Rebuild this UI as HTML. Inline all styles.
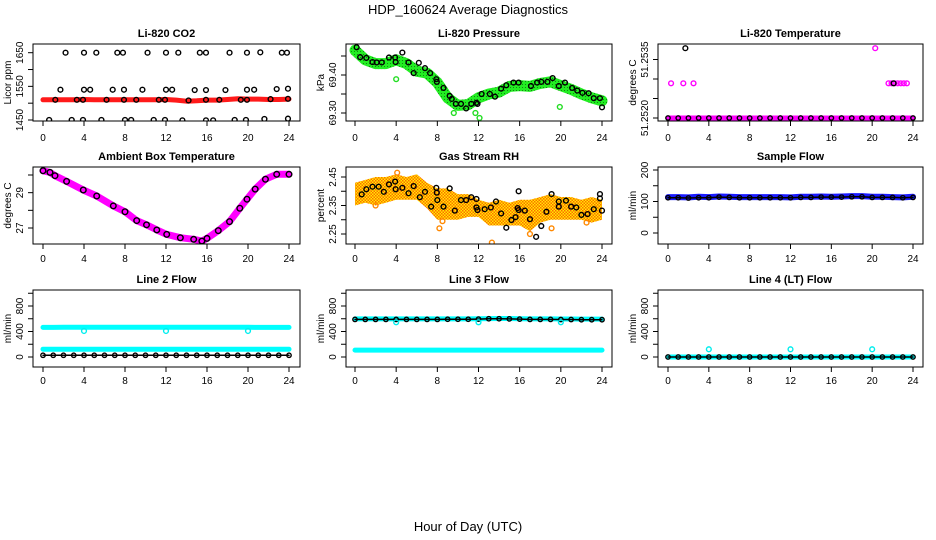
<!DOCTYPE html>
<html><head><meta charset="utf-8"><title>HDP_160624 Average Diagnostics</title>
<style>
html,body{margin:0;padding:0;background:#fff;}
svg{display:block;font-family:"Liberation Sans",Arial,sans-serif;}
</style></head>
<body>
<svg id="chart" xmlns="http://www.w3.org/2000/svg" width="936" height="540" viewBox="0 0 936 540">
<defs>
<pattern id="rhpat" width="3" height="3" patternUnits="userSpaceOnUse">
<rect width="3" height="3" fill="#ffee00"/><rect width="1.5" height="1.5" fill="#ff6a00"/><rect x="1.5" y="1.5" width="1.5" height="1.5" fill="#ff6a00"/>
</pattern>
<pattern id="grpat" width="3" height="3" patternUnits="userSpaceOnUse">
<rect width="3" height="3" fill="#22ee22"/><rect width="1" height="1" fill="#118811"/>
</pattern>
</defs>
<text x="468" y="14" text-anchor="middle" font-size="13">HDP_160624  Average Diagnostics</text>
<text x="468" y="531" text-anchor="middle" font-size="13">Hour of Day (UTC)</text>
</svg>
<script>
// ---- Data ----
const hourTicks = [0,4,8,12,16,20,24];
const hourLabels = ["0","4","8","12","16","20","24"];
const hours25 = [0,1,2,3,4,5,6,7,8,9,10,11,12,13,14,15,16,17,18,19,20,21,22,23,24];

// Li-820 CO2
const co2BandVals = [1510,1510,1510,1510,1511,1510,1510,1510,1510,1510,1510,1510,1511,1509,1506,1507,1509,1509,1511,1513,1512,1512,1511,1511,1512];
const co2PtHours = [2.2,4.0,5.2,7.25,7.8,10.2,12.0,13.2,15.3,15.9,18.2,19.9,21.2,23.3,23.8,
 1.7,4.0,4.6,6.8,7.9,9.7,12.0,12.6,14.8,15.9,17.8,19.9,20.6,22.8,23.9,
 1.2,3.3,3.9,6.2,7.9,9.1,11.3,11.9,14.2,15.9,17.2,19.3,19.9,22.2,23.9,
 0.6,2.8,3.9,5.7,8.0,8.6,10.8,11.9,13.6,15.9,16.6,18.7,19.8,21.6,23.9];
const co2PtVals = [1650,1650,1650,1650,1650,1650,1650,1650,1650,1650,1650,1650,1651,1650,1650,
 1540,1540,1540,1540,1540,1540,1540,1540,1539,1539,1539,1540,1540,1542,1543,
 1510,1510,1510,1510,1510,1510,1510,1510,1508,1510,1510,1510,1510,1512,1513,
 1450,1450,1450,1450,1450,1450,1450,1450,1449,1449,1449,1450,1450,1453,1454];

// Li-820 Pressure
const presBandVals = [69.465,69.44,69.43,69.43,69.44,69.43,69.41,69.405,69.38,69.34,69.32,69.322,69.34,69.35,69.355,69.37,69.372,69.37,69.378,69.382,69.372,69.362,69.35,69.34,69.332];
const presPtHours = [0.16,0.5,1.1,1.7,2.1,2.6,3.3,3.9,3.95,4.6,5.2,5.7,6.2,6.8,7.3,7.9,7.95,8.6,9.2,9.4,9.8,10.3,10.8,11.3,11.8,11.9,12.3,13.1,13.6,14.2,14.7,15.4,15.9,17.1,17.7,18.1,18.7,19.2,19.8,20.4,21.1,21.6,22.1,22.7,23.2,23.8,24.0];
const presPtVals = [69.473,69.447,69.445,69.434,69.433,69.433,69.446,69.446,69.434,69.459,69.433,69.405,69.432,69.418,69.405,69.389,69.382,69.366,69.345,69.337,69.324,69.324,69.312,69.324,69.327,69.324,69.350,69.350,69.343,69.364,69.373,69.380,69.380,69.371,69.380,69.382,69.382,69.392,69.371,69.380,69.366,69.359,69.353,69.352,69.339,69.339,69.315];
const presOutHours = [4.0,9.6,11.7,12.1,19.9];
const presOutVals = [69.389,69.300,69.300,69.287,69.316];

// Li-820 Temperature
const tempMagHours = [0.3,1.5,2.5,20.3,21.6,21.9,22.2,22.5,22.8,23.1,23.4];
const tempMagVals = [51.25289,51.25289,51.25289,51.25379,51.25289,51.25289,51.25289,51.25289,51.25289,51.25289,51.25289];
const tempBaseVals = [51.2520,51.2520,51.2520,51.2520,51.2520,51.2520,51.2520,51.2520,51.2520,51.2520,51.2520,51.2520,51.2520,51.2520,51.2520,51.2520,51.2520,51.2520,51.2520,51.2520,51.2520,51.2520,51.2520,51.2520,51.2520];
const tempBlkHours = [1.7,22.1];
const tempBlkVals = [51.25379,51.25289];

// Ambient Box Temperature
const ambHours = [0.0,0.68,1.17,2.3,3.93,5.24,6.86,8.0,9.14,10.1,11.1,12.07,13.4,14.7,15.5,16.0,17.1,18.2,19.2,19.9,20.7,21.7,22.8,24.0];
const ambVals = [30.24,30.15,29.96,29.64,29.15,28.81,28.25,27.92,27.42,27.18,26.89,26.64,26.45,26.36,26.26,26.41,26.85,27.36,28.12,28.63,29.2,29.76,30.04,30.04];

// Gas Stream RH
const rhUpper = [2.43,2.44,2.45,2.45,2.46,2.45,2.46,2.43,2.41,2.41,2.39,2.39,2.37,2.36,2.37,2.36,2.37,2.37,2.38,2.39,2.38,2.38,2.37,2.38,2.37];
const rhLower = [2.35,2.36,2.35,2.36,2.37,2.37,2.37,2.34,2.30,2.30,2.30,2.31,2.31,2.28,2.28,2.28,2.28,2.26,2.29,2.30,2.30,2.30,2.30,2.29,2.30];
const rhPtHours = [0.65,1.1,1.7,2.3,2.8,3.3,3.9,3.95,4.6,5.2,5.7,6.3,6.8,7.4,7.9,7.95,8.0,8.6,9.2,9.7,10.3,10.8,11.3,11.8,11.8,11.9,12.6,13.2,13.7,14.2,14.7,15.2,15.6,15.9,15.8,15.9,16.5,17.0,17.6,18.1,18.6,19.1,19.8,19.8,20.5,21.0,21.5,22.0,22.6,23.2,23.8,23.8,24.0];
const rhPtVals = [2.389,2.407,2.416,2.416,2.398,2.424,2.434,2.407,2.412,2.393,2.418,2.379,2.398,2.346,2.412,2.395,2.369,2.346,2.41,2.332,2.369,2.369,2.379,2.373,2.343,2.334,2.337,2.343,2.364,2.322,2.272,2.299,2.309,2.4,2.341,2.334,2.332,2.302,2.24,2.278,2.328,2.39,2.364,2.346,2.367,2.346,2.343,2.317,2.32,2.337,2.39,2.375,2.332];
const rhOutHours = [2.0,4.1,8.2,8.5,13.3,17.0,22.5,19.1];
const rhOutVals = [2.35,2.465,2.27,2.295,2.22,2.25,2.29,2.27];

// Sample Flow
const sfBlue = [114,114,113,115,114,116,115,114,114,114,114,114,113,115,115,116,115,116,117,117,115,115,114,113,115];
const sfBlack = [112,112,111,112,112,114,113,112,112,112,112,112,112,113,113,114,114,114,115,115,113,113,113,112,113];

// Line 2 Flow
const l2Upper = [465,465,466,466,468,468,467,467,466,466,466,466,466,466,466,466,466,466,468,468,466,464,464,464,464];
const l2Lower = [122,122,122,122,122,122,122,122,122,122,122,122,122,122,122,122,122,122,122,122,122,122,122,122,122];
const l2Black = [27,27,27,27,27,27,27,27,27,27,27,27,27,27,27,27,27,27,27,27,27,27,27,27,27];
const flowOutHours = [4.0,12.0,20.0];
const l2OutVals = [408,408,408];

// Line 3 Flow
const l3Upper = [598,598,598,598,598,598,598,598,598,598,598,598,600,602,604,604,600,598,598,598,596,596,594,594,594];
const l3Lower = [108,108,108,108,108,108,108,108,108,108,108,108,108,108,108,108,108,108,108,108,108,108,108,108,108];
const l3Black = [590,590,590,590,590,590,590,590,590,592,592,592,594,600,600,598,594,590,590,590,588,588,585,585,585];
const l3OutVals = [545,545,545];

// Line 4 Flow
const l4Black = [0,0,0,0,0,0,0,0,0,0,0,0,0,0,0,0,0,0,0,0,0,0,0,0,0];
const l4OutVals = [121,121,121];

// ---- Drawing ----
const svg = document.getElementById('chart');
const NS = 'http://www.w3.org/2000/svg';
function mk(tag, attrs, parent){
  const e = document.createElementNS(NS, tag);
  for (const k in attrs) e.setAttribute(k, attrs[k]);
  (parent||svg).appendChild(e);
  return e;
}
const cols = [{x0:43,x24:289,l:33,r:300},{x0:355,x24:602,l:346,r:612},{x0:668,x24:913,l:658,r:923}];
const rows = [{t:44,b:121,title:37,lab:141},{t:167,b:244,title:160,lab:262},{t:290,b:367,title:283,lab:384}];

function panel(name, ci, ri, title, ylab, v1, p1, v2, p2, ticks, labels){
  const c = cols[ci], r = rows[ri];
  const g = mk('g', {});
  
  
  const xs = h => c.x0 + (c.x24 - c.x0) * h / 24;
  const ys = v => p1 + (v - v1) * (p2 - p1) / (v2 - v1);
  const plot = mk('g', {}, g);
  
  
  const clip = mk('clipPath', {id: 'clip-' + name}, g);
  mk('rect', {x:c.l, y:r.t, width:c.r-c.l, height:r.b-r.t}, clip);
  plot.setAttribute('clip-path', 'url(#clip-' + name + ')');
  const box = mk('rect', {x:c.l, y:r.t, width:c.r-c.l, height:r.b-r.t, fill:'none', stroke:'#000', 'stroke-width':1}, g);
  
  
  const t = mk('text', {x:(c.l+c.r)/2, y:r.title, 'text-anchor':'middle', 'font-size':11, 'font-weight':'bold'}, g);
  t.textContent = title;
  
  
  const xa = mk('g', {}, g);
  
  
  hourTicks.forEach((h, i) => {
    mk('line', {x1:xs(h), x2:xs(h), y1:r.b, y2:r.b+5, stroke:'#000'}, xa);
    const lt = mk('text', {x:xs(h), y:r.lab, 'text-anchor':'middle', 'font-size':10}, xa);
    lt.textContent = hourLabels[i];
    
    
  });
  const ya = mk('g', {}, g);
  
  
  mk('line', {x1:c.l, x2:c.l, y1:ys(ticks[0]), y2:ys(ticks[ticks.length-1]), stroke:'#000'}, ya);
  ticks.forEach((v, i) => {
    mk('line', {x1:c.l-5, x2:c.l, y1:ys(v), y2:ys(v), stroke:'#000'}, ya);
    if (labels[i]) {
      const lt = mk('text', {x:0, y:0, 'text-anchor':'middle', 'font-size':10, transform:'translate(' + (c.l-10) + ',' + ys(v) + ') rotate(-90)'}, ya);
      lt.textContent = labels[i];
      
      
    }
  });
  const yt = mk('text', {x:0, y:0, 'text-anchor':'middle', 'font-size':10, transform:'translate(' + (c.l-22) + ',' + ((r.t+r.b)/2) + ') rotate(-90)'}, g);
  yt.textContent = ylab;
  
  
  return {xs, ys, plot};
}
function band(P, hrs, vals, color, w, nm){
  const pts = hrs.map((h, i) => P.xs(h).toFixed(1) + ',' + P.ys(vals[i]).toFixed(1)).join(' ');
  const e = mk('polyline', {points:pts, fill:'none', stroke:color, 'stroke-width':w, 'stroke-linejoin':'round', 'stroke-linecap':'round'}, P.plot);
  
  
}
function area(P, hrs, up, lo, fill, nm){
  const a = hrs.map((h, i) => P.xs(h).toFixed(1) + ',' + P.ys(up[i]).toFixed(1));
  const b = hrs.slice().reverse().map((h, j) => { const i = hrs.length-1-j; return P.xs(h).toFixed(1) + ',' + P.ys(lo[i]).toFixed(1); });
  const e = mk('polygon', {points:a.concat(b).join(' '), fill:fill}, P.plot);
  
  
}
function dots(P, hrs, vals, color, nm, rad){
  hrs.forEach((h, i) => {
    const e = mk('circle', {cx:P.xs(h), cy:P.ys(vals[i]), r:rad||2.4, fill:'none', stroke:color, 'stroke-width':1.4}, P.plot);
    
    
  });
}

// 1 CO2
let P = panel('li820-co2', 0, 0, 'Li-820 CO2', 'Licor ppm', 1450, 120, 1650, 52.7, [1450,1500,1550,1600,1650], ['1450','','1550','','1650']);
band(P, hours25, co2BandVals, '#ff1a1a', 5, 'co2-red-series');
dots(P, co2PtHours, co2PtVals, '#000', 'co2-point');

// 2 Pressure
P = panel('li820-pressure', 1, 0, 'Li-820 Pressure', 'kPa', 69.30, 113, 69.40, 75, [69.30,69.35,69.40,69.45], ['69.30','','69.40','']);
band(P, hours25, presBandVals, 'url(#grpat)', 11, 'pressure-green-series');
dots(P, presOutHours, presOutVals, '#22dd22', 'pressure-green-point');
dots(P, presPtHours, presPtVals, '#000', 'pressure-point');

// 3 Temperature
P = panel('li820-temperature', 2, 0, 'Li-820 Temperature', 'degrees C', 51.2520, 118, 51.2535, 59.5, [51.2520,51.2525,51.2530,51.2535], ['51.2520','','','51.2535']);
band(P, hours25, tempBaseVals, '#ff00ff', 5, 'temperature-magenta-series');
dots(P, hours25, tempBaseVals, '#000', 'temperature-black-point', 2.2);
dots(P, tempMagHours, tempMagVals, '#ff00ff', 'temperature-magenta-point');
dots(P, tempBlkHours, tempBlkVals, '#000', 'temperature-point');

// 4 Ambient
P = panel('ambient-box-temperature', 0, 1, 'Ambient Box Temperature', 'degrees C', 27, 228, 30, 175, [27,28,29,30], ['27','','29','']);
band(P, ambHours, ambVals, '#ff00ff', 7, 'ambient-magenta-series');
dots(P, ambHours, ambVals, '#000', 'ambient-point', 2.8);

// 5 RH
P = panel('gas-stream-rh', 1, 1, 'Gas Stream RH', 'percent', 2.25, 234, 2.45, 177, [2.25,2.30,2.35,2.40,2.45], ['2.25','','2.35','','2.45']);
area(P, hours25, rhUpper, rhLower, 'url(#rhpat)', 'rh-cloud-series');
dots(P, rhOutHours, rhOutVals, '#ff8800', 'rh-orange-point');
dots(P, rhPtHours, rhPtVals, '#000', 'rh-point');

// 6 Sample flow
P = panel('sample-flow', 2, 1, 'Sample Flow', 'ml/min', 0, 233, 200, 170, [0,50,100,150,200], ['0','','100','','200']);
band(P, hours25, sfBlue, '#1a1aff', 6, 'sample-flow-blue-series');
band(P, hours25, sfBlack, '#000', 1.5, 'sample-flow-black-series');
dots(P, hours25, sfBlack, '#000', 'sample-flow-point', 2.2);

// 7 Line 2
P = panel('line2-flow', 0, 2, 'Line 2 Flow', 'ml/min', 0, 357, 800, 306, [0,200,400,600,800,1000], ['0','','400','','800','']);
band(P, hours25, l2Upper, '#00ffff', 5, 'line2-cyan-upper-series');
band(P, hours25, l2Lower, '#00ffff', 5, 'line2-cyan-lower-series');
band(P, hours25, l2Black, '#000', 1.5, 'line2-black-series');
dots(P, hours25, l2Black, '#000', 'line2-point', 2.2);
dots(P, flowOutHours, l2OutVals, '#00eeee', 'line2-cyan-point');

// 8 Line 3
P = panel('line3-flow', 1, 2, 'Line 3 Flow', 'ml/min', 0, 357, 800, 306, [0,200,400,600,800,1000], ['0','','400','','800','']);
band(P, hours25, l3Upper, '#00ffff', 5, 'line3-cyan-upper-series');
band(P, hours25, l3Lower, '#00ffff', 5, 'line3-cyan-lower-series');
band(P, hours25, l3Black, '#000', 1.5, 'line3-black-series');
dots(P, hours25, l3Black, '#000', 'line3-point', 2.2);
dots(P, flowOutHours, l3OutVals, '#00eeee', 'line3-cyan-point');

// 9 Line 4
P = panel('line4-flow', 2, 2, 'Line 4 (LT) Flow', 'ml/min', 0, 357, 800, 306, [0,200,400,600,800,1000], ['0','','400','','800','']);
band(P, hours25, l4Black, '#00ffff', 5, 'line4-cyan-series');
band(P, hours25, l4Black, '#000', 1.5, 'line4-black-series');
dots(P, hours25, l4Black, '#000', 'line4-point', 2.2);
dots(P, flowOutHours, l4OutVals, '#00eeee', 'line4-cyan-point');
</script>
</body></html>
